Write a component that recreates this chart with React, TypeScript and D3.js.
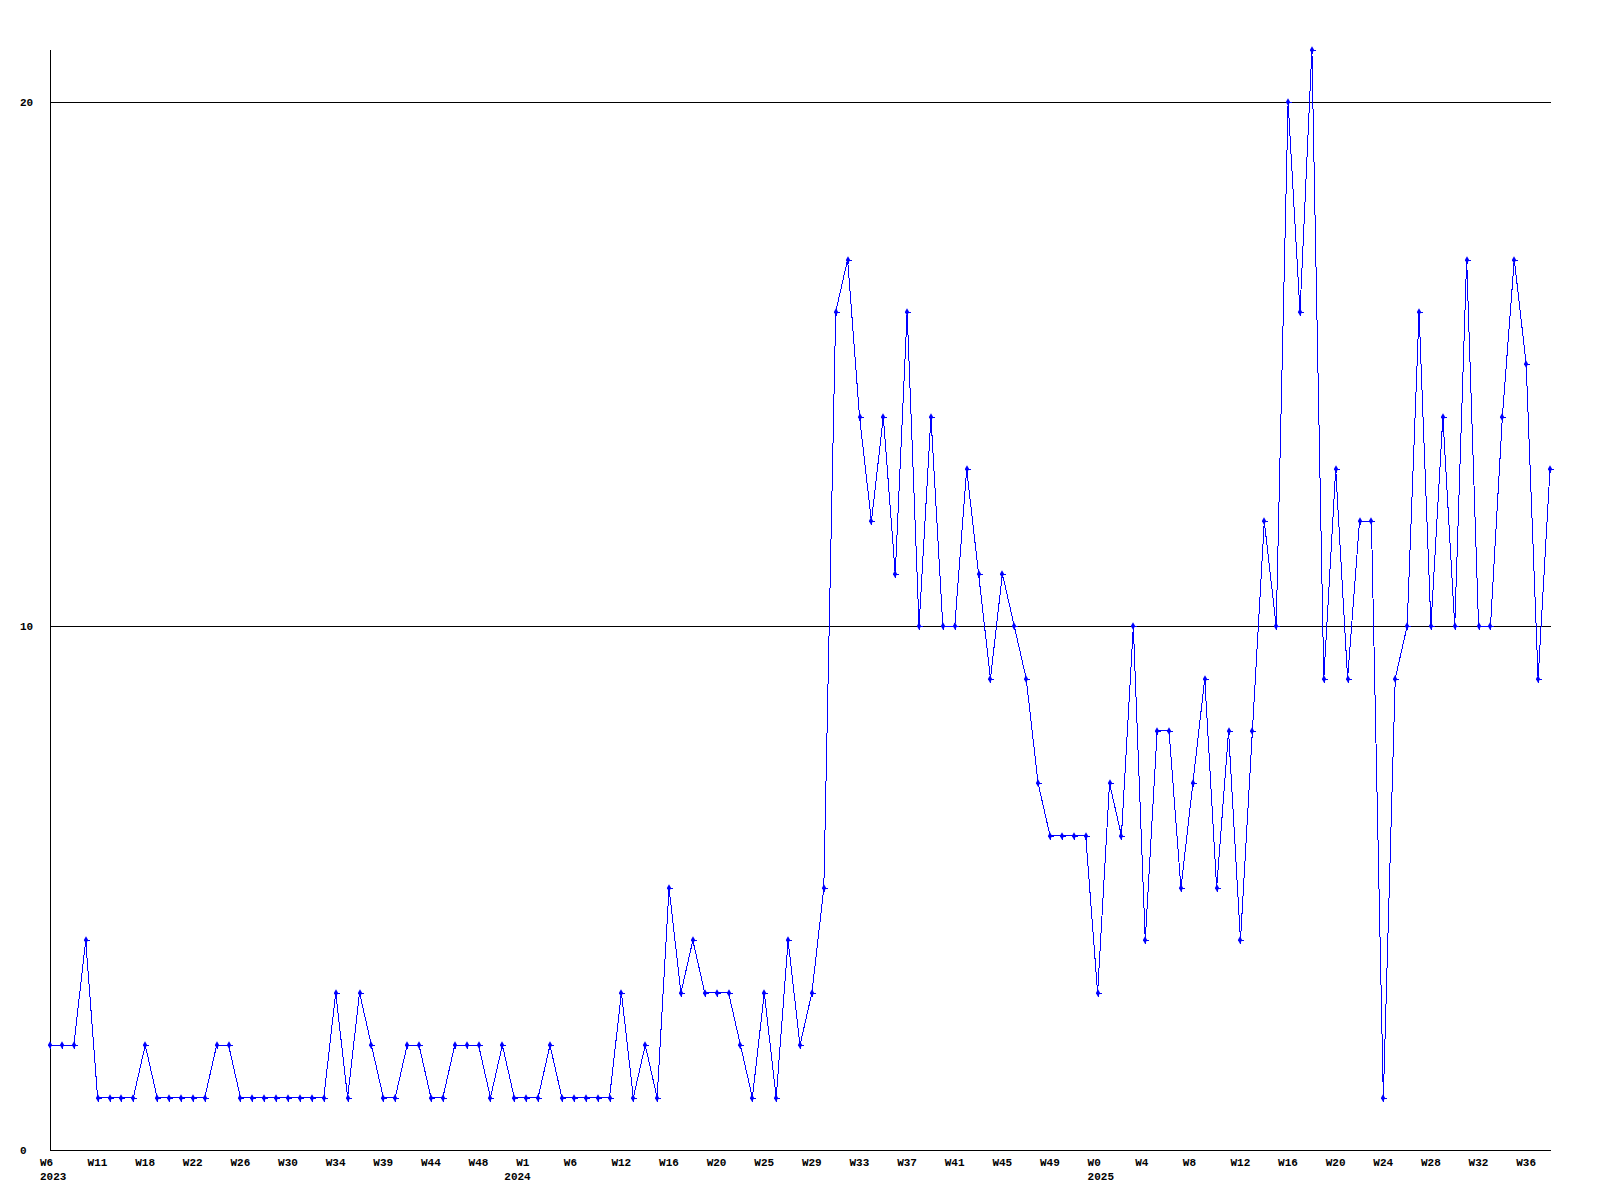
import React from "react";
import * as d3 from "d3";

const values: number[] = [
  2, 2, 2, 4, 1, 1, 1, 1, 2, 1, 1, 1, 1, 1, 2, 2, 1, 1, 1, 1, 1, 1, 1, 1, 3, 1, 3, 2, 1, 1, 2, 2, 1, 1, 2, 2, 2, 1, 2, 1, 1, 1, 2, 1, 1, 1,
  1, 1, 3, 1, 2, 1, 5, 3, 4, 3, 3, 3, 2, 1, 3, 1, 4, 2, 3, 5,
  16, 17, 14, 12, 14, 11, 16, 10, 14, 10, 10, 13, 11, 9, 11, 10,
  9, 7, 6, 6, 6, 6, 3, 7, 6, 10, 4, 8, 8, 5, 7, 9, 5, 8, 4, 8,
  12, 10, 20, 16, 21, 9, 13, 9, 12, 12, 1, 9, 10, 16, 10, 14, 10, 17, 10, 10, 14, 17, 15, 9, 13,
];

const tickIndex: number[] = [0, 4, 8, 12, 16, 20, 24, 28, 32, 36, 40, 44, 48, 52, 56, 60, 64, 68, 72, 76, 80, 84, 88, 92, 96, 100, 104, 108, 112, 116, 120, 124];
const tickWeek: string[] = ["W6", "W11", "W18", "W22", "W26", "W30", "W34", "W39", "W44", "W48", "W1", "W6", "W12", "W16", "W20", "W25", "W29", "W33", "W37", "W41", "W45", "W49", "W0", "W4", "W8", "W12", "W16", "W20", "W24", "W28", "W32", "W36"];
const yearIndex: number[] = [0, 39, 88];
const yearLabel: string[] = ["2023", "2024", "2025"];
const yTicks: number[] = [0, 10, 20];
const yMax = 21;

const FONT = "'Liberation Mono', 'DejaVu Sans Mono', monospace";

export default function App() {
  const W = 1600, H = 1200;
  const x = d3.scaleLinear().domain([0, values.length - 1]).range([50, 1550]);
  const y = d3.scaleLinear().domain([0, yMax]).range([1150, 50]);
  const line = d3.line<number>().x((_, i) => x(i)).y((d) => y(d));
  const diamond = d3.symbol().type(d3.symbolDiamond).size(16)() as string;

  return (
    <svg width={W} height={H} style={{ position: "absolute", left: 0, top: 0, background: "#fff" }}>
      {/* grid lines */}
      {yTicks.filter((t) => t > 0).map((t) => (
        <line key={"g" + t} x1={x(0)} x2={x(values.length - 1) + 1} y1={Math.round(y(t)) + 0.5} y2={Math.round(y(t)) + 0.5} stroke="#000" strokeWidth={1} shapeRendering="crispEdges" />
      ))}
      {/* axes */}
      <line x1={x(0) + 0.5} x2={x(0) + 0.5} y1={y(yMax)} y2={y(0) + 1} stroke="#000" strokeWidth={1} shapeRendering="crispEdges" />
      <line x1={x(0)} x2={x(values.length - 1) + 1} y1={y(0) + 0.5} y2={y(0) + 0.5} stroke="#000" strokeWidth={1} shapeRendering="crispEdges" />
      {/* y labels */}
      {yTicks.map((t) => (
        <text key={"y" + t} x={20} y={y(t) + 4} fontFamily={FONT} fontWeight="bold" fontSize={11} fill="#000">{t}</text>
      ))}
      {/* x labels */}
      {tickIndex.map((ti, k) => (
        <text key={"x" + k} x={x(ti) - 10} y={1166} fontFamily={FONT} fontWeight="bold" fontSize={11} fill="#000">{tickWeek[k]}</text>
      ))}
      {yearIndex.map((ti, k) => (
        <text key={"yr" + k} x={x(ti) - 10} y={1180} fontFamily={FONT} fontWeight="bold" fontSize={11} fill="#000">{yearLabel[k]}</text>
      ))}
      {/* series */}
      <path d={line(values) || ""} fill="none" stroke="#0000ff" strokeWidth={1} shapeRendering="crispEdges" />
      {values.map((v, i) => (
        <g key={"m" + i} transform={`translate(${Math.round(x(i))},${Math.round(y(v))})`}>
          <path d={diamond} fill="#0000ff" />
          <path d="M-2.5,0.5H3.5M0.5,-2.5V3.5" stroke="#0000ff" strokeWidth={1} shapeRendering="crispEdges" />
        </g>
      ))}
    </svg>
  );
}
